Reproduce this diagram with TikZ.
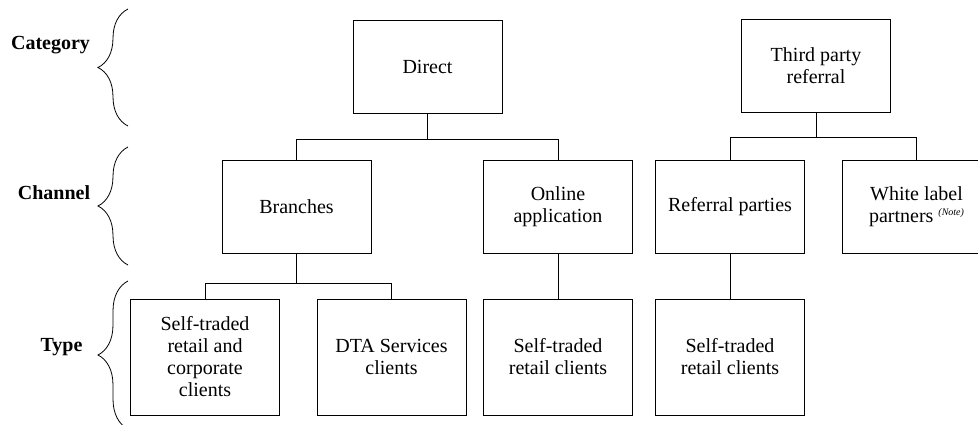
\documentclass[tikz,border=0pt]{standalone}
\usepackage{fontspec}
\setmainfont{Liberation Serif}
\usetikzlibrary{decorations.pathreplacing}
\tikzset{
    box/.style={draw,line width=0.8pt,align=center,minimum width=149pt,minimum height=93pt,inner sep=2pt,font=\fontsize{20}{22}\selectfont},
    tall/.style={minimum height=116pt},
    level/.style={font=\fontsize{20}{22}\selectfont\bfseries},
    levelbrace/.style={line width=0.8pt,decorate,decoration={brace,amplitude=30pt}},
    link/.style={line width=0.8pt}
}
\newcommand{\notemark}{\raisebox{7pt}{\fontsize{10}{10}\selectfont\itshape (Note)}}

\begin{document}
\begin{tikzpicture}[x=1pt,y=-1pt]
  \useasboundingbox (0,0) rectangle (978,424);

  % Levels
  \node[level] (category) at (50.5,45) {Category};
  \node[level] (channel) at (54,193) {Channel};
  \node[level] (type) at (61.5,347) {Type};
  \draw[levelbrace] (128,126) -- (128,9);
  \draw[levelbrace] (128,265) -- (128,147);
  \draw[levelbrace] (128,429) -- (128,281);

  % Category
  \node[box] (direct) at (427.5,67) {Direct};
  \node[box] (third) at (816,65.5) {Third party\\referral};

  % Channel
  \node[box] (branches) at (296.5,206.5) {Branches};
  \node[box] (online) at (558,206.5) {Online\\application};
  \node[box] (refer) at (730,206.5) {Referral parties};
  \node[box] (white) at (916.5,206.5) {White label\\partners \notemark};

  % Type
  \node[box,tall] (corp) at (205,357) {Self-traded\\retail and\\corporate\\clients};
  \node[box,tall] (dta) at (391.5,357) {DTA Services\\clients};
  \node[box,tall] (onclient) at (558,357) {Self-traded\\retail clients};
  \node[box,tall] (refclient) at (730,357) {Self-traded\\retail clients};

  % Links
  \draw[link] (direct.south) -- ++(0,25) coordinate (dbus);
  \draw[link] (branches.north) |- (dbus) -| (online.north);
  \draw[link] (third.south) -- ++(0,25) coordinate (tbus);
  \draw[link] (refer.north) |- (tbus) -| (white.north);
  \draw[link] (branches.south) -- ++(0,30) coordinate (bbus);
  \draw[link] (corp.north) |- (bbus) -| (dta.north);
  \draw[link] (online.south) -- (onclient.north);
  \draw[link] (refer.south) -- (refclient.north);
\end{tikzpicture}
\end{document}
